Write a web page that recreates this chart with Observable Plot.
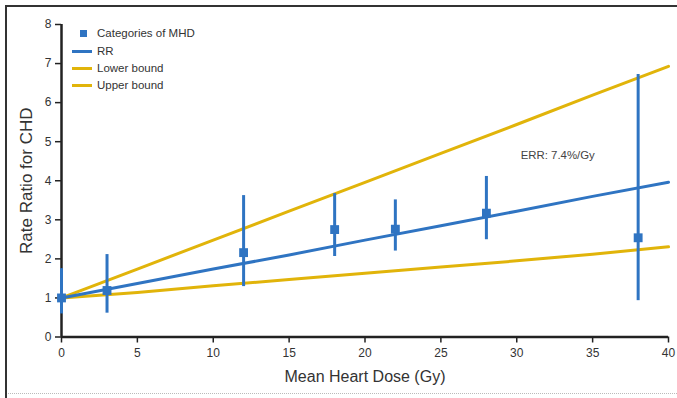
<!DOCTYPE html>
<html><head><meta charset="utf-8">
<script src="https://cdn.jsdelivr.net/npm/d3@7"></script>
<script src="https://cdn.jsdelivr.net/npm/@observablehq/plot@0.6"></script>
<style>
body{margin:0;background:#fff;font-family:"Liberation Sans",Arial,sans-serif;}
#wrap{position:relative;width:677px;height:398px;overflow:hidden;}
#wrap svg{position:absolute;left:0;top:0;}
.frameTop{position:absolute;left:5px;top:5px;width:672px;height:2px;background:#333;}
.frameLeft{position:absolute;left:5px;top:5px;width:1.5px;height:393px;background:#333;}
.dots{position:absolute;left:8px;top:393px;width:669px;border-top:1px dotted #bbb;}
.legend{position:absolute;left:72px;top:26px;font-size:11.5px;color:#333;}
.legend .row{position:absolute;left:0;white-space:nowrap;height:13px;line-height:13px;}
.legend .sw{position:absolute;left:0;top:5px;width:20px;height:3px;}
.legend .sq{position:absolute;left:8px;top:3px;width:7px;height:7px;}
.legend .lbl{position:absolute;left:25px;top:0;}
</style></head>
<body><div id="wrap"></div>
<script>
const catX  = [0, 3, 12, 18, 22, 28, 38];
const catY  = [1.0, 1.19, 2.16, 2.75, 2.76, 3.17, 2.54];
const catLo = [0.59, 0.61, 1.29, 2.06, 2.2, 2.49, 0.93];
const catHi = [1.75, 2.11, 3.62, 3.67, 3.51, 4.11, 6.72];

const lineX = [0, 5, 10, 15, 20, 25, 30, 35, 40];
const rrY    = [1.0, 1.37, 1.74, 2.1, 2.48, 2.85, 3.22, 3.6, 3.96];
const lowerY = [1.0, 1.14, 1.31, 1.47, 1.63, 1.79, 1.95, 2.12, 2.31];
const upperY = [1.0, 1.74, 2.48, 3.22, 3.96, 4.7, 5.44, 6.19, 6.93];

const xTicks = [0, 5, 10, 15, 20, 25, 30, 35, 40];
const yTicks = [0, 1, 2, 3, 4, 5, 6, 7, 8];
const legendLabels = ["Categories of MHD", "RR", "Lower bound", "Upper bound"];
const annotation = "ERR: 7.4%/Gy";

const BLUE = "#2f74c2", YELLOW = "#e1b40a";

const cats = catX.map((x, i) => ({x, y: catY[i], lo: catLo[i], hi: catHi[i]}));
const rr = lineX.map((x, i) => ({x, y: rrY[i]}));
const lower = lineX.map((x, i) => ({x, y: lowerY[i]}));
const upper = lineX.map((x, i) => ({x, y: upperY[i]}));

const chart = Plot.plot({
  width: 677, height: 398,
  marginLeft: 61, marginRight: 9, marginTop: 24, marginBottom: 61.5,
  style: {fontFamily: "'Liberation Sans', Arial, sans-serif", fontSize: "11px", color: "#333", background: "transparent"},
  x: {domain: [0, 40]},
  y: {domain: [0, 8]},
  marks: [
    Plot.axisX({ticks: xTicks, tickSize: 6, tickPadding: 5, fontSize: 12, label: null, stroke: "#222", strokeWidth: 1.5}),
    Plot.axisY({ticks: yTicks, tickSize: 6, tickPadding: 4, fontSize: 12, label: null, stroke: "#222", strokeWidth: 1.5}),
    Plot.ruleY([0], {stroke: "#222", strokeWidth: 2.5}),
    Plot.ruleX([0], {stroke: "#222", strokeWidth: 2.5}),
    Plot.line(upper, {x: "x", y: "y", stroke: YELLOW, strokeWidth: 3}),
    Plot.line(lower, {x: "x", y: "y", stroke: YELLOW, strokeWidth: 3}),
    Plot.line(rr, {x: "x", y: "y", stroke: BLUE, strokeWidth: 3}),
    Plot.ruleX(cats, {x: "x", y1: "lo", y2: "hi", stroke: BLUE, strokeWidth: 3}),
    Plot.dot(cats, {x: "x", y: "y", symbol: "square", r: 5, fill: BLUE, stroke: "none"}),
    Plot.text([annotation], {x: 32.7, y: 4.65, text: d => d, fontSize: 11.4, fill: "#444"}),
    Plot.text(["Mean Heart Dose (Gy)"], {frameAnchor: "bottom", dy: 45, fontSize: 16, fill: "#333", text: d => d}),
    Plot.text(["Rate Ratio for CHD"], {frameAnchor: "left", dx: -35, rotate: -90, textAnchor: "middle", fontSize: 17, fill: "#333", text: d => d})
  ]
});

const wrap = document.getElementById("wrap");
wrap.appendChild(chart);
["frameTop", "frameLeft", "dots"].forEach(c => { const d = document.createElement("div"); d.className = c; wrap.appendChild(d); });

const legend = document.createElement("div");
legend.className = "legend";
const rowsTop = [0.5, 19.2, 35.8, 52.5];
const swatch = [{sq: BLUE}, {line: BLUE}, {line: YELLOW}, {line: YELLOW}];
legendLabels.forEach((lab, i) => {
  const row = document.createElement("div");
  row.className = "row";
  row.style.top = rowsTop[i] + "px";
  const s = document.createElement("div");
  if (swatch[i].sq) { s.className = "sq"; s.style.background = swatch[i].sq; }
  else { s.className = "sw"; s.style.background = swatch[i].line; }
  row.appendChild(s);
  const t = document.createElement("span");
  t.className = "lbl"; t.textContent = lab;
  row.appendChild(t);
  legend.appendChild(row);
});
wrap.appendChild(legend);
</script>
</body></html>
